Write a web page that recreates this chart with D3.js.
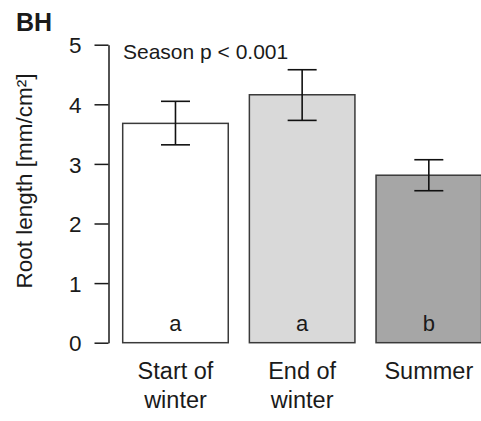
<!DOCTYPE html>
<html>
<head>
<meta charset="utf-8">
<script src="https://cdn.jsdelivr.net/npm/d3@7"></script>
<style>
  body { margin: 0; background: #fff; }
  text { font-family: "Liberation Sans", Arial, sans-serif; fill: #1a1a1a; }
</style>
</head>
<body>
<div class="chart"></div>
<script>
// data
var categories = ["Start of\nwinter", "End of\nwinter", "Summer"];
var means = [3.68, 4.16, 2.81];
var errLow = [3.32, 3.73, 2.55];
var errHigh = [4.05, 4.58, 3.07];
var letters = ["a", "a", "b"];
var fills = ["#ffffff", "#d9d9d9", "#a6a6a6"];
var yTicks = [0, 1, 2, 3, 4, 5];

var w = 481, h = 421;

var svg = d3.select(".chart")
    .append("svg")
    .attr("width", w)
    .attr("height", h);

// y scale, 0 sits at the bottom of the bars
var y = d3.scaleLinear().domain([0, 5]).range([342.7, 44.7]);

// bars, R style spacing 0.2
var x = d3.scaleBand()
    .domain(d3.range(categories.length))
    .range([122.7, 481.6])
    .paddingInner(0.1667)
    .paddingOuter(0);

// y axis
var yAxis = d3.axisLeft(y).tickValues(yTicks).tickFormat(d3.format("d"))
    .tickSize(14).tickPadding(13).tickSizeOuter(0);
var ga = svg.append("g")
    .attr("transform", "translate(108.5,0)")
    .call(yAxis);
ga.select(".domain").attr("stroke", "#1a1a1a").attr("stroke-width", 1.5);
ga.selectAll(".tick line").attr("stroke", "#1a1a1a").attr("stroke-width", 1.5);
ga.selectAll(".tick text")
    .attr("font-size", 22.5)
    .attr("font-family", "Liberation Sans, Arial, sans-serif")
    .attr("fill", "#1a1a1a")
    .attr("dy", "0.36em");

// the bars
svg.selectAll("rect.bar")
    .data(means)
    .enter()
    .append("rect")
    .attr("class", "bar")
    .attr("x", function (d, i) { return x(i); })
    .attr("y", function (d) { return y(d); })
    .attr("width", x.bandwidth())
    .attr("height", function (d) { return y(0) - y(d); })
    .attr("fill", function (d, i) { return fills[i]; })
    .attr("stroke", "#3a3a3a")
    .attr("stroke-width", 1.5);

// error bars
var cap = 14.5;
var eb = svg.selectAll("g.err")
    .data(means)
    .enter()
    .append("g")
    .attr("class", "err")
    .attr("stroke", "#111")
    .attr("stroke-width", 1.6);
eb.append("line")
    .attr("x1", function (d, i) { return x(i) + x.bandwidth() / 2; })
    .attr("x2", function (d, i) { return x(i) + x.bandwidth() / 2; })
    .attr("y1", function (d, i) { return y(errLow[i]); })
    .attr("y2", function (d, i) { return y(errHigh[i]); });
eb.append("line")
    .attr("x1", function (d, i) { return x(i) + x.bandwidth() / 2 - cap; })
    .attr("x2", function (d, i) { return x(i) + x.bandwidth() / 2 + cap; })
    .attr("y1", function (d, i) { return y(errHigh[i]); })
    .attr("y2", function (d, i) { return y(errHigh[i]); });
eb.append("line")
    .attr("x1", function (d, i) { return x(i) + x.bandwidth() / 2 - cap; })
    .attr("x2", function (d, i) { return x(i) + x.bandwidth() / 2 + cap; })
    .attr("y1", function (d, i) { return y(errLow[i]); })
    .attr("y2", function (d, i) { return y(errLow[i]); });

// letters inside bars
svg.selectAll("text.letter")
    .data(letters)
    .enter()
    .append("text")
    .attr("class", "letter")
    .attr("x", function (d, i) { return x(i) + x.bandwidth() / 2; })
    .attr("y", 331)
    .attr("text-anchor", "middle")
    .attr("font-size", 22)
    .text(function (d) { return d; });

// category labels, two lines
var cl = svg.selectAll("text.cat")
    .data(categories)
    .enter()
    .append("text")
    .attr("class", "cat")
    .attr("text-anchor", "middle")
    .attr("font-size", 23.5)
    .attr("transform", function (d, i) { return "translate(" + (x(i) + x.bandwidth() / 2) + ",379)"; });
cl.selectAll("tspan")
    .data(function (d) { return d.split("\n"); })
    .enter()
    .append("tspan")
    .attr("x", 0)
    .attr("dy", function (d, j) { return j === 0 ? 0 : 28.5; })
    .text(function (d) { return d; });

// y label
svg.append("text")
    .attr("transform", "translate(32,181) rotate(-90)")
    .attr("text-anchor", "middle")
    .attr("font-size", 22.5)
    .text("Root length [mm/cm²]");

// panel letter and p value
svg.append("text")
    .attr("x", 16)
    .attr("y", 31)
    .attr("font-size", 25)
    .attr("font-weight", "bold")
    .text("BH");

svg.append("text")
    .attr("x", 123)
    .attr("y", 59)
    .attr("font-size", 21)
    .text("Season p < 0.001");
</script>
</body>
</html>
